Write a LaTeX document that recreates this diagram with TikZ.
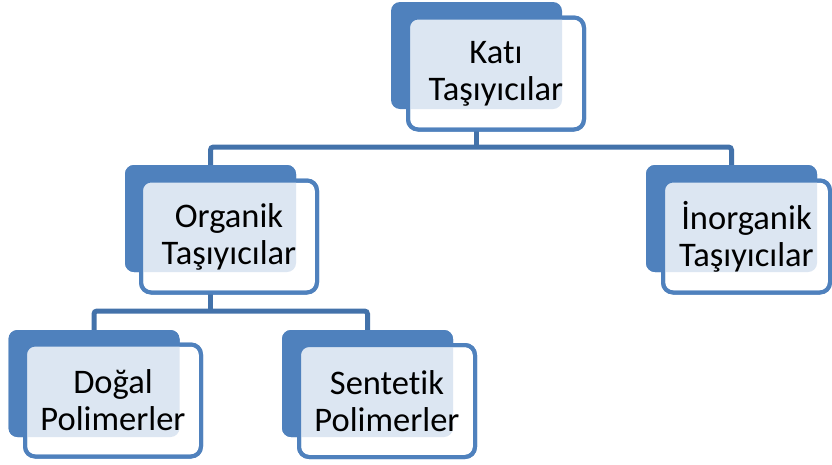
\documentclass[tikz,border=0pt]{standalone}
\usepackage{fontspec}
\setmainfont[Ligatures=NoCommon]{Carlito}
\definecolor{acc}{HTML}{4F81BD}
\definecolor{lnk}{HTML}{4372AA}
\definecolor{tint}{HTML}{DCE6F2}
\tikzset{
  backbox/.style={fill=acc, rounded corners=9pt, minimum width=171pt, minimum height=107pt, inner sep=0pt, outer sep=0pt},
  frontbox/.style={draw=acc, line width=4pt, fill=white, rounded corners=10pt, minimum width=176pt, minimum height=112pt, inner sep=0pt, outer sep=0pt},
  lbl/.style={align=center, font=\fontsize{34.5pt}{37pt}\selectfont, inner sep=0pt},
  conn/.style={draw=lnk, line width=5pt, rounded corners=3pt},
}
\newcommand\tintfill[2]{%
  \begin{scope}
    \clip[rounded corners=10pt] (#2.south west) rectangle (#2.north east);
    \fill[tint, rounded corners=9pt] (#1.south west) rectangle (#1.north east);
  \end{scope}
  \draw[acc, line width=4pt, rounded corners=10pt] (#2.south west) rectangle (#2.north east);
}
\begin{document}
\begin{tikzpicture}[x=1pt,y=-1pt]
\useasboundingbox (0,0) rectangle (832,464);
% back boxes
\node[backbox] (kb) at (476.5,55.5) {};
\node[backbox] (ob) at (210.5,218.5) {};
\node[backbox] (ib) at (731.5,218.5) {};
\node[backbox] (db) at (94,383.5) {};
\node[backbox] (sb) at (367.5,383.5) {};
% connectors
\coordinate (j1) at (476.5,147);
\coordinate (j2) at (210.5,311);
\draw[conn] (ob.north) -- (ob.north |- j1) -- (ib.north |- j1) -- (ib.north);
\draw[conn] (db.north) -- (db.north |- j2) -- (sb.north |- j2) -- (sb.north);
% redraw back boxes over connector ends
\fill[acc, rounded corners=9pt] (ob.south west) rectangle (ob.north east);
\fill[acc, rounded corners=9pt] (ib.south west) rectangle (ib.north east);
\fill[acc, rounded corners=9pt] (db.south west) rectangle (db.north east);
\fill[acc, rounded corners=9pt] (sb.south west) rectangle (sb.north east);
% front boxes
\node[frontbox] (kf) at (496,73.5) {};
\node[frontbox] (of) at (229,236.5) {};
\node[frontbox, minimum width=167pt] (if) at (746.5,236.5) {};
\node[frontbox] (df) at (113,400.5) {};
\node[frontbox] (sf) at (387,401) {};
\draw[conn] (kb.center |- kf.south) -- (j1);
\draw[conn] (ob.center |- of.south) -- (j2);
\tintfill{kb}{kf}
\tintfill{ob}{of}
\tintfill{ib}{if}
\tintfill{db}{df}
\tintfill{sb}{sf}
% labels
\node[lbl] (kt) at (kf.center) {Katı\\Taşıyıcılar};
\node[lbl] (ot) at (of.center) {Organik\\Taşıyıcılar};
\node[lbl] (it) at (if.center) {İnorganik\\Taşıyıcılar};
\node[lbl] (dt) at (df.center) {Doğal\\Polimerler};
\node[lbl] (st) at (sf.center) {Sentetik\\Polimerler};
\end{tikzpicture}
\end{document}
